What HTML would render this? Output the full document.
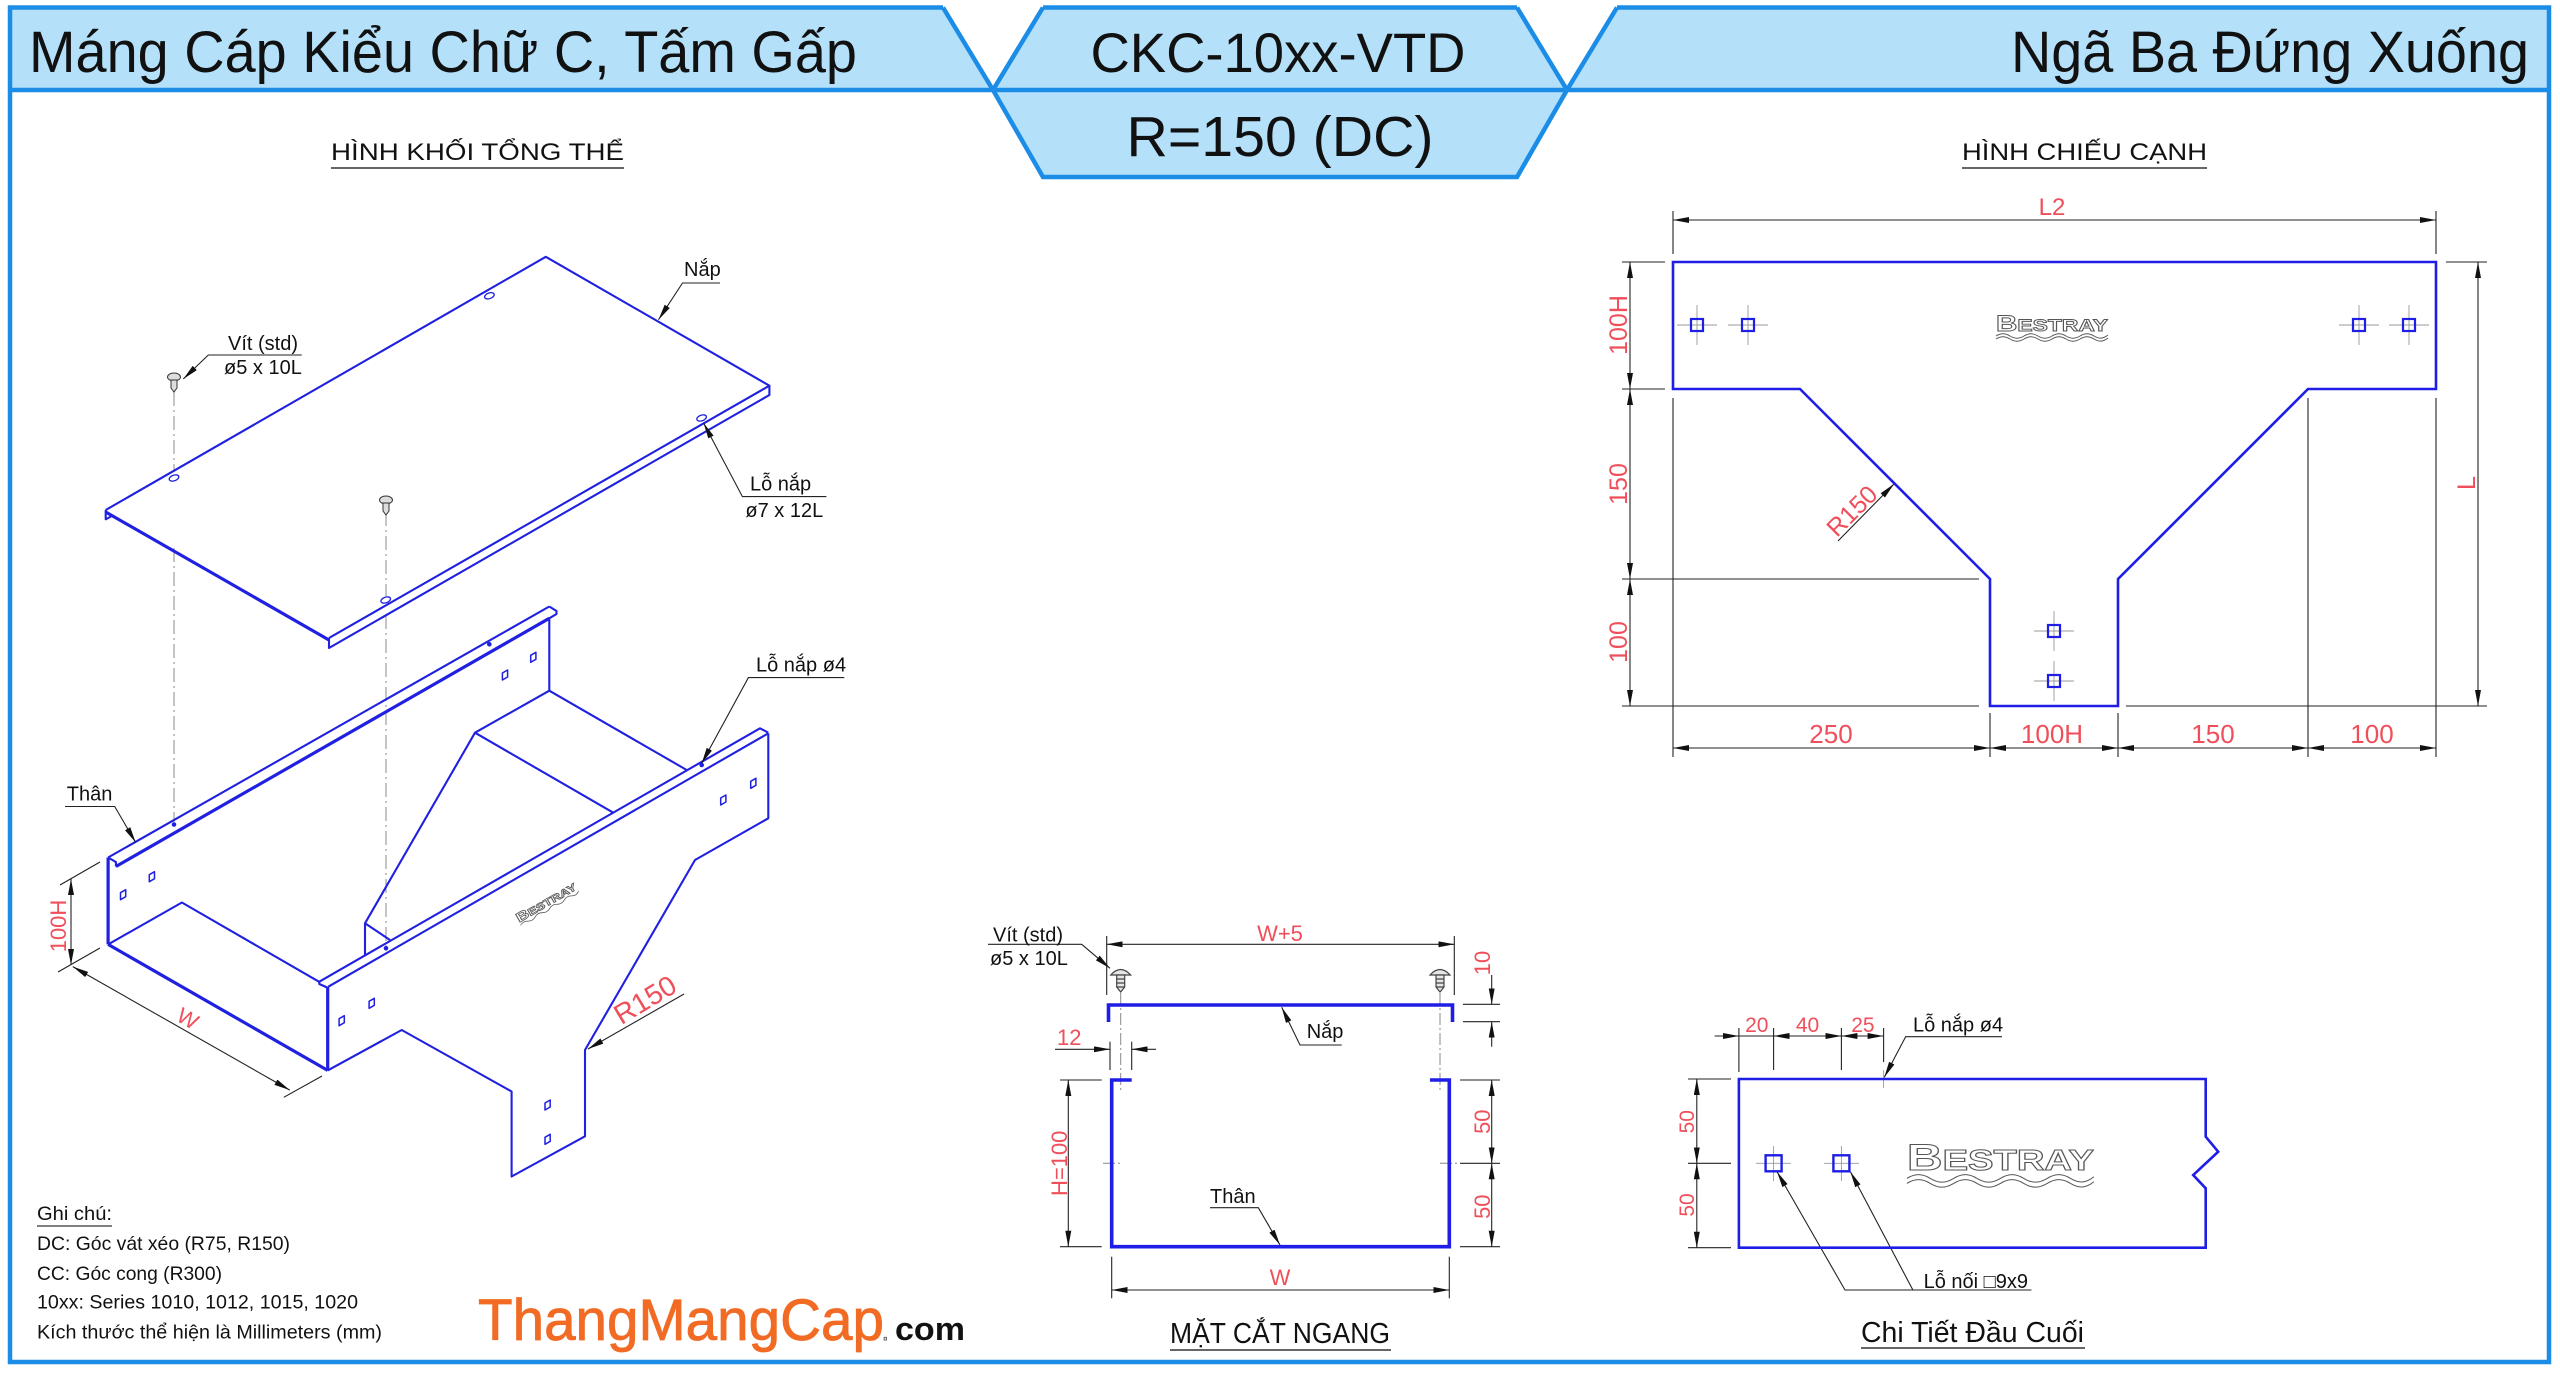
<!DOCTYPE html>
<html><head><meta charset="utf-8"><style>html,body{margin:0;padding:0;background:#fff}svg{display:block}</style></head><body>
<svg xmlns="http://www.w3.org/2000/svg" width="2560" height="1373" viewBox="0 0 2560 1373" font-family="'Liberation Sans','DejaVu Sans',sans-serif">
<defs>
<marker id="a" viewBox="0 0 16 6" refX="16" refY="3" markerWidth="16" markerHeight="6" orient="auto-start-reverse" markerUnits="userSpaceOnUse"><path d="M0,0 L16,3 L0,6 z" fill="#111"/></marker>
</defs>
<rect width="2560" height="1373" fill="#fff"/>
<!-- HEADER -->
<polygon points="10,7.5 943,7.5 993,90 10,90" fill="#b4e0fa"/>
<polygon points="1043,7.5 1517,7.5 1567,90 1517,177 1043,177 993,90" fill="#b4e0fa"/>
<polygon points="1617,7.5 2549,7.5 2549,90 1567,90" fill="#b4e0fa"/>
<g stroke="#1b8de6" stroke-width="4.5" fill="none">
<polyline points="943,7.5 10,7.5 10,1362 2549,1362 2549,7.5 1617,7.5"/>
<line x1="1043" y1="7.5" x2="1517" y2="7.5"/>
<line x1="10" y1="90" x2="2549" y2="90"/>
<polyline points="943,7.5 993,90 1043,177 1517,177 1567,90 1617,7.5"/>
<line x1="1043" y1="7.5" x2="993" y2="90"/>
<line x1="1517" y1="7.5" x2="1567" y2="90"/>
</g>
<g fill="#111">
<text x="29" y="72" font-size="58" textLength="828" lengthAdjust="spacingAndGlyphs">Máng Cáp Kiểu Chữ C, Tấm Gấp</text>
<text x="1278" y="72" font-size="56" text-anchor="middle" textLength="375" lengthAdjust="spacingAndGlyphs">CKC-10xx-VTD</text>
<text x="1280" y="156" font-size="57" text-anchor="middle" textLength="307" lengthAdjust="spacingAndGlyphs">R=150 (DC)</text>
<text x="2011" y="72" font-size="58" textLength="518" lengthAdjust="spacingAndGlyphs">Ngã Ba Đứng Xuống</text>
<text x="331" y="160" font-size="24" textLength="293" lengthAdjust="spacingAndGlyphs">HÌNH KHỐI TỔNG THỂ</text>
<text x="1962" y="160" font-size="24" textLength="245" lengthAdjust="spacingAndGlyphs">HÌNH CHIẾU CẠNH</text>
<text x="1170" y="1343" font-size="29" textLength="220" lengthAdjust="spacingAndGlyphs">MẶT CẮT NGANG</text>
<text x="1861" y="1342" font-size="29" textLength="223" lengthAdjust="spacingAndGlyphs">Chi Tiết Đầu Cuối</text>
</g>
<g stroke="#666" stroke-width="2">
<line x1="331" y1="168" x2="624" y2="168"/>
<line x1="1962" y1="168" x2="2207" y2="168"/>
<line x1="1170" y1="1350" x2="1391" y2="1350"/>
<line x1="1861" y1="1348" x2="2085" y2="1348"/>
</g>

<!-- SIDE VIEW -->
<g stroke="#222" stroke-width="1.1" fill="none">
<line x1="1673" y1="211" x2="1673" y2="254"/>
<line x1="2436" y1="211" x2="2436" y2="254"/>
<line x1="1673" y1="220" x2="2436" y2="220" marker-start="url(#a)" marker-end="url(#a)"/>
<line x1="1622" y1="262" x2="1665" y2="262"/>
<line x1="1622" y1="389" x2="1665" y2="389"/>
<line x1="1622" y1="579" x2="1979" y2="579"/>
<line x1="1622" y1="706" x2="1979" y2="706"/>
<line x1="2126" y1="706" x2="2487" y2="706"/>
<line x1="2446" y1="262" x2="2487" y2="262"/>
<line x1="1630" y1="262" x2="1630" y2="389" marker-start="url(#a)" marker-end="url(#a)"/>
<line x1="1630" y1="389" x2="1630" y2="579" marker-start="url(#a)" marker-end="url(#a)"/>
<line x1="1630" y1="579" x2="1630" y2="706" marker-start="url(#a)" marker-end="url(#a)"/>
<line x1="2478" y1="262" x2="2478" y2="706" marker-start="url(#a)" marker-end="url(#a)"/>
<line x1="1673" y1="398" x2="1673" y2="757"/>
<line x1="1990" y1="713" x2="1990" y2="757"/>
<line x1="2118" y1="713" x2="2118" y2="757"/>
<line x1="2308" y1="398" x2="2308" y2="757"/>
<line x1="2436" y1="398" x2="2436" y2="757"/>
<line x1="1673" y1="748" x2="1990" y2="748" marker-start="url(#a)" marker-end="url(#a)"/>
<line x1="1990" y1="748" x2="2118" y2="748" marker-start="url(#a)" marker-end="url(#a)"/>
<line x1="2118" y1="748" x2="2308" y2="748" marker-start="url(#a)" marker-end="url(#a)"/>
<line x1="2308" y1="748" x2="2436" y2="748" marker-start="url(#a)" marker-end="url(#a)"/>
<line x1="1838" y1="541" x2="1894" y2="484" marker-end="url(#a)"/>
</g>
<path d="M1673,262 L2436,262 L2436,389 L2308,389 L2118,579 L2118,706 L1990,706 L1990,579 L1800,389 L1673,389 Z" fill="none" stroke="#1e1ee6" stroke-width="2.6"/>
<g stroke="#999" stroke-width="0.9">
<path d="M1677,325h40M1697,305v40M1728,325h40M1748,305v40M2339,325h40M2359,305v40M2389,325h40M2409,305v40M2034,631h40M2054,611v40M2034,681h40M2054,661v40"/>
</g>
<g fill="none" stroke="#1e1ee6" stroke-width="2.2">
<rect x="1691" y="319" width="12" height="12"/><rect x="1742" y="319" width="12" height="12"/>
<rect x="2353" y="319" width="12" height="12"/><rect x="2403" y="319" width="12" height="12"/>
<rect x="2048" y="625" width="12" height="12"/><rect x="2048" y="675" width="12" height="12"/>
</g>
<g fill="#ef4f5a">
<text x="2052" y="215" font-size="24" text-anchor="middle">L2</text>
<text transform="translate(1627,325) rotate(-90)" font-size="25" text-anchor="middle">100H</text>
<text transform="translate(1627,484) rotate(-90)" font-size="25" text-anchor="middle">150</text>
<text transform="translate(1627,642) rotate(-90)" font-size="25" text-anchor="middle">100</text>
<text transform="translate(2475,483) rotate(-90)" font-size="25" text-anchor="middle">L</text>
<text x="1831" y="743" font-size="26" text-anchor="middle">250</text>
<text x="2052" y="743" font-size="26" text-anchor="middle">100H</text>
<text x="2213" y="743" font-size="26" text-anchor="middle">150</text>
<text x="2372" y="743" font-size="26" text-anchor="middle">100</text>
<text transform="translate(1858,517) rotate(-45)" font-size="25" text-anchor="middle">R150</text>
</g>
<g transform="translate(2052,326)">
<text x="-56" y="5" font-size="17" font-weight="bold" fill="#fff" stroke="#555" stroke-width="0.9" textLength="112" lengthAdjust="spacingAndGlyphs"><tspan font-size="22">B</tspan>ESTRAY</text>
<path d="M-56,10 c5,-3 9,-3 14,0 s9,3 14,0 s9,-3 14,0 s9,3 14,0 s9,-3 14,0 s9,3 14,0 s9,-3 14,0 s9,3 14,-1 M-56,13 c5,-3 9,-3 14,0 s9,3 14,0 s9,-3 14,0 s9,3 14,0 s9,-3 14,0 s9,3 14,0 s9,-3 14,0 s9,3 14,-1" fill="none" stroke="#555" stroke-width="0.9"/>
</g>

<!-- CROSS SECTION -->
<g stroke="#222" stroke-width="1.1" fill="none">
<line x1="1106.7" y1="936" x2="1106.7" y2="995"/>
<line x1="1454.3" y1="936" x2="1454.3" y2="995"/>
<line x1="1106.7" y1="944.3" x2="1454.3" y2="944.3" marker-start="url(#a)" marker-end="url(#a)"/>
<line x1="1463" y1="1004.3" x2="1500" y2="1004.3"/>
<line x1="1463" y1="1021.7" x2="1500" y2="1021.7"/>
<line x1="1491.7" y1="975" x2="1491.7" y2="1004.3" marker-end="url(#a)"/>
<line x1="1491.7" y1="1046.7" x2="1491.7" y2="1021.7" marker-end="url(#a)"/>
<line x1="1110" y1="1041.7" x2="1110" y2="1070"/>
<line x1="1131.7" y1="1041.7" x2="1131.7" y2="1070"/>
<line x1="1055" y1="1049.3" x2="1110" y2="1049.3" marker-end="url(#a)"/>
<line x1="1156" y1="1049.3" x2="1131.7" y2="1049.3" marker-end="url(#a)"/>
<line x1="1060" y1="1080" x2="1101.7" y2="1080"/>
<line x1="1060" y1="1246.7" x2="1101.7" y2="1246.7"/>
<line x1="1068.3" y1="1080" x2="1068.3" y2="1246.7" marker-start="url(#a)" marker-end="url(#a)"/>
<line x1="1460" y1="1080" x2="1500" y2="1080"/>
<line x1="1460" y1="1163.3" x2="1500" y2="1163.3"/>
<line x1="1460" y1="1246.7" x2="1500" y2="1246.7"/>
<line x1="1491.7" y1="1080" x2="1491.7" y2="1163.3" marker-start="url(#a)" marker-end="url(#a)"/>
<line x1="1491.7" y1="1163.3" x2="1491.7" y2="1246.7" marker-start="url(#a)" marker-end="url(#a)"/>
<line x1="1111.7" y1="1256.7" x2="1111.7" y2="1298.3"/>
<line x1="1449.3" y1="1256.7" x2="1449.3" y2="1298.3"/>
<line x1="1111.7" y1="1290" x2="1449.3" y2="1290" marker-start="url(#a)" marker-end="url(#a)"/>
<polyline points="988,944.3 1081.7,944.3 1110,968.3" marker-end="url(#a)"/>
<polyline points="1341.7,1045 1300,1045 1281.7,1007.3" marker-end="url(#a)"/>
<polyline points="1210,1207.7 1258.3,1207.7 1280,1245" marker-end="url(#a)"/>
</g>
<g stroke="#888" stroke-width="1" stroke-dasharray="12 3 2 3" fill="none">
<line x1="1120.7" y1="993" x2="1120.7" y2="1090"/>
<line x1="1440" y1="993" x2="1440" y2="1090"/>
<line x1="1103" y1="1163.3" x2="1122" y2="1163.3"/>
<line x1="1440" y1="1163.3" x2="1458" y2="1163.3"/>
</g>
<g stroke="#1e1ee6" stroke-width="3.6" fill="none">
<polyline points="1108.5,1022 1108.5,1005 1452.5,1005 1452.5,1022"/>
<polyline points="1131.7,1080 1111.7,1080 1111.7,1246.7 1449.3,1246.7 1449.3,1080 1430,1080"/>
</g>
<g stroke="#444" stroke-width="1.2" fill="#e6e6e6">
<path d="M1110.7,975 Q1120.7,964 1130.7,975 Z"/><path d="M1116.7,975 h8 v12 l-4,5 l-4,-5 z"/>
<path d="M1430,975 Q1440,964 1450,975 Z"/><path d="M1436,975 h8 v12 l-4,5 l-4,-5 z"/>
<path d="M1116.7,979h8M1116.7,983h8M1116.7,987h8M1436,979h8M1436,983h8M1436,987h8" fill="none"/>
</g>
<g fill="#ef4f5a" font-size="22">
<text x="1280" y="941" text-anchor="middle">W+5</text>
<text x="1057" y="1045">12</text>
<text transform="translate(1490,963) rotate(-90)" text-anchor="middle">10</text>
<text transform="translate(1490,1121.7) rotate(-90)" text-anchor="middle">50</text>
<text transform="translate(1490,1206.7) rotate(-90)" text-anchor="middle">50</text>
<text transform="translate(1067,1163.3) rotate(-90)" text-anchor="middle">H=100</text>
<text x="1280" y="1285" text-anchor="middle">W</text>
</g>
<g fill="#111" font-size="20">
<text x="993" y="941.7">Vít (std)</text>
<text x="990" y="965">ø5 x 10L</text>
<text x="1306.7" y="1038">Nắp</text>
<text x="1210" y="1203">Thân</text>
</g>

<!-- END DETAIL -->
<g stroke="#222" stroke-width="1.1" fill="none">
<line x1="1738.9" y1="1028" x2="1738.9" y2="1072"/>
<line x1="1773.6" y1="1028" x2="1773.6" y2="1070"/>
<line x1="1841.4" y1="1028" x2="1841.4" y2="1070"/>
<line x1="1883.6" y1="1028" x2="1883.6" y2="1062"/>
<line x1="1714.6" y1="1036" x2="1738.9" y2="1036" marker-end="url(#a)"/>
<line x1="1738.9" y1="1036" x2="1773.6" y2="1036"/>
<line x1="1773.6" y1="1036" x2="1841.4" y2="1036" marker-start="url(#a)" marker-end="url(#a)"/>
<line x1="1841.4" y1="1036" x2="1883.6" y2="1036" marker-start="url(#a)" marker-end="url(#a)"/>
<line x1="1688" y1="1079" x2="1731" y2="1079"/>
<line x1="1688" y1="1163.3" x2="1731" y2="1163.3"/>
<line x1="1688" y1="1247.7" x2="1731" y2="1247.7"/>
<line x1="1696.8" y1="1079" x2="1696.8" y2="1163.3" marker-start="url(#a)" marker-end="url(#a)"/>
<line x1="1696.8" y1="1163.3" x2="1696.8" y2="1247.7" marker-start="url(#a)" marker-end="url(#a)"/>
<polyline points="2002,1036.7 1905.7,1036.7 1884.3,1077.3" marker-end="url(#a)"/>
<polyline points="2031.4,1290 1845,1290 1777,1171.7" marker-end="url(#a)"/>
<line x1="1912.9" y1="1290" x2="1850.4" y2="1171.7" marker-end="url(#a)"/>
</g>
<g stroke="#999" stroke-width="0.9">
<path d="M1756,1163.3h35M1773.6,1146v35M1824,1163.3h35M1841.4,1146v35M1883.6,1070v18"/>
</g>
<path d="M1738.9,1079 L2205.7,1079 L2205.7,1136.7 L2218.2,1151.7 L2193.2,1175 L2205.7,1188.3 L2205.7,1247.7 L1738.9,1247.7 Z" fill="none" stroke="#1e1ee6" stroke-width="2.6"/>
<g fill="none" stroke="#1e1ee6" stroke-width="2.4">
<rect x="1765.6" y="1155.3" width="16" height="16"/><rect x="1833.4" y="1155.3" width="16" height="16"/>
</g>
<g fill="#ef4f5a" font-size="21">
<text x="1756.8" y="1032" text-anchor="middle">20</text>
<text x="1807.5" y="1032" text-anchor="middle">40</text>
<text x="1862.9" y="1032" text-anchor="middle">25</text>
<text transform="translate(1694,1121.7) rotate(-90)" text-anchor="middle">50</text>
<text transform="translate(1694,1205) rotate(-90)" text-anchor="middle">50</text>
</g>
<g fill="#111" font-size="20">
<text x="1913" y="1031.7">Lỗ nắp ø4</text>
<text x="1923.6" y="1288">Lỗ nối □9x9</text>
</g>
<g transform="translate(2000.4,1161.7) scale(1.67)">
<text x="-56" y="5" font-size="17" font-weight="bold" fill="#fff" stroke="#555" stroke-width="0.6" textLength="112" lengthAdjust="spacingAndGlyphs"><tspan font-size="22">B</tspan>ESTRAY</text>
<path d="M-56,10 c5,-3 9,-3 14,0 s9,3 14,0 s9,-3 14,0 s9,3 14,0 s9,-3 14,0 s9,3 14,0 s9,-3 14,0 s9,3 14,-1 M-56,13 c5,-3 9,-3 14,0 s9,3 14,0 s9,-3 14,0 s9,3 14,0 s9,-3 14,0 s9,3 14,0 s9,-3 14,0 s9,3 14,-1" fill="none" stroke="#555" stroke-width="0.6"/>
</g>

<!-- ISO VIEW -->
<g stroke="#888" stroke-width="1" stroke-dasharray="14 4 2 4" fill="none">
<line x1="174" y1="392" x2="174" y2="472"/>
<line x1="174" y1="548" x2="174" y2="822"/>
<line x1="386" y1="512" x2="386" y2="596"/>
<line x1="386" y1="615" x2="386" y2="946"/>
</g>
<g stroke="#2020e0" stroke-width="2.1" fill="none" stroke-linejoin="round">
<polyline points="105.7,510 545.8,256.8 769.4,385.7 329,638"/>
<polyline points="769.4,385.7 769.4,395 329,648 329,638"/>
<polyline points="105.7,510 105.7,519.3 111,516.5"/>
<line x1="108.1" y1="857.5" x2="549.3" y2="606.5"/>
<polyline points="549.3,606.5 556.5,611 556.5,614 549.3,618.3"/>
<line x1="549.3" y1="618.3" x2="549.3" y2="690.7"/>
<polyline points="108.1,857.5 115.9,862 115.9,866.5"/>
<polyline points="108.1,944.4 181.9,902.5 319.8,982.2"/>
<polyline points="686.7,770 549.3,690.7 475,732.7 613.3,812.7"/>
<polyline points="475,732.7 365,923.3 365,955"/>
<line x1="365" y1="923.3" x2="390" y2="940"/>
<polyline points="319.3,981.7 760,728.3 768.3,732.7"/>
<line x1="328.3" y1="986.7" x2="768.3" y2="733.3"/>
<polyline points="319.3,981.7 319.3,984 328.3,988"/>
<polyline points="768.3,733.3 768.3,818.3 695,860 585,1050 585,1136.3 511.6,1176.5 511.6,1091.5 401.7,1030 327.7,1070.4"/>
<path d="M530.7,655.3l5.2,-3v7l-5.2,3z M502.4,673l5.2,-3v7l-5.2,3z M149.3,874.7l5.2,-3v7l-5.2,3z M120.5,892.7l5.2,-3v7l-5.2,3z M750.7,781.3l5.2,-3v7l-5.2,3z M720.7,798l5.2,-3v7l-5.2,3z M369.1,1001.3l5.2,-3v7l-5.2,3z M339.1,1018.7l5.2,-3v7l-5.2,3z M545,1103l5.2,-3v7l-5.2,3z M545,1137.3l5.2,-3v7l-5.2,3z" stroke-width="1.5"/>
<ellipse cx="489.4" cy="295.8" rx="5" ry="2.8" transform="rotate(-20 489.4 295.8)" stroke-width="1.3"/>
<ellipse cx="174" cy="478" rx="5" ry="2.8" transform="rotate(-20 174 478)" stroke-width="1.3"/>
<ellipse cx="701.6" cy="418" rx="5" ry="2.8" transform="rotate(-20 701.6 418)" stroke-width="1.3"/>
<ellipse cx="385.7" cy="600" rx="5" ry="2.8" transform="rotate(-20 385.7 600)" stroke-width="1.3"/>
</g>
<g stroke="#2020e0" stroke-width="3.2" fill="none">
<line x1="105.7" y1="512" x2="329" y2="640"/>
<line x1="115.9" y1="866.5" x2="549.3" y2="618.3"/>
<line x1="108.1" y1="857.5" x2="108.1" y2="944.4"/>
<line x1="108.1" y1="944.4" x2="327.7" y2="1070.4"/>
<line x1="327.7" y1="986.7" x2="327.7" y2="1070.4"/>
</g>
<g fill="#2020e0">
<circle cx="489.3" cy="644.3" r="2.3"/><circle cx="174" cy="824.5" r="2.3"/><circle cx="386" cy="948.3" r="2.3"/><circle cx="701.7" cy="765" r="2.3"/>
</g>
<g stroke="#333" stroke-width="1" fill="#ddd">
<ellipse cx="174" cy="377" rx="6.5" ry="4"/><path d="M171,380 h6 v8 l-3,4 l-3,-4 z"/>
<ellipse cx="386" cy="500" rx="6.5" ry="4"/><path d="M383,503 h6 v8 l-3,4 l-3,-4 z"/>
</g>
<g transform="translate(546.7,903.3) rotate(-30) scale(0.6)">
<text x="-56" y="5" font-size="17" font-weight="bold" fill="#fff" stroke="#555" stroke-width="1.3" textLength="112" lengthAdjust="spacingAndGlyphs"><tspan font-size="22">B</tspan>ESTRAY</text>
<path d="M-56,10 c5,-3 9,-3 14,0 s9,3 14,0 s9,-3 14,0 s9,3 14,0 s9,-3 14,0 s9,3 14,0 s9,-3 14,0 s9,3 14,-1" fill="none" stroke="#555" stroke-width="1.3"/>
</g>
<g stroke="#222" stroke-width="1.1" fill="none">
<line x1="60" y1="885" x2="100" y2="862"/>
<line x1="58" y1="972" x2="100" y2="948"/>
<line x1="71" y1="879" x2="71" y2="965" marker-start="url(#a)" marker-end="url(#a)"/>
<line x1="72.8" y1="966.6" x2="289.8" y2="1090.1" marker-start="url(#a)" marker-end="url(#a)"/>
<line x1="283.8" y1="1097.3" x2="322" y2="1076"/>
<line x1="684" y1="994" x2="588" y2="1049" marker-end="url(#a)"/>
<polyline points="720,283 682.5,283 658.5,319.7" marker-end="url(#a)"/>
<polyline points="301.7,355 208.3,355 183.3,379" marker-end="url(#a)"/>
<polyline points="826.4,496.6 742.4,496.6 703.5,422.9" marker-end="url(#a)"/>
<polyline points="844.3,677.6 748.4,677.6 701.7,763.3" marker-end="url(#a)"/>
<polyline points="65,806.5 114.7,806.5 135.7,842.5" marker-end="url(#a)"/>
</g>
<g fill="#ef4f5a">
<text transform="translate(66,926) rotate(-90)" font-size="22" text-anchor="middle">100H</text>
<text transform="translate(184,1025) rotate(30)" font-size="22" text-anchor="middle">W</text>
<text transform="translate(650,1008) rotate(-31)" font-size="28" text-anchor="middle">R150</text>
</g>
<g fill="#111" font-size="20">
<text x="684" y="276">Nắp</text>
<text x="228" y="350">Vít (std)</text>
<text x="224" y="374">ø5 x 10L</text>
<text x="750" y="490.6">Lỗ nắp</text>
<text x="745.4" y="517">ø7 x 12L</text>
<text x="756" y="671.7">Lỗ nắp ø4</text>
<text x="66.8" y="800.5">Thân</text>
</g>

<!-- NOTES -->
<g fill="#111" font-size="19.5">
<text x="37" y="1220" textLength="75" lengthAdjust="spacingAndGlyphs">Ghi chú:</text>
<text x="37" y="1250" textLength="253" lengthAdjust="spacingAndGlyphs">DC: Góc vát xéo (R75, R150)</text>
<text x="37" y="1280" textLength="185" lengthAdjust="spacingAndGlyphs">CC: Góc cong (R300)</text>
<text x="37" y="1308.5" textLength="321" lengthAdjust="spacingAndGlyphs">10xx: Series 1010, 1012, 1015, 1020</text>
<text x="37" y="1338.5" textLength="345" lengthAdjust="spacingAndGlyphs">Kích thước thể hiện là Millimeters (mm)</text>
</g>
<line x1="37" y1="1226" x2="112" y2="1226" stroke="#555" stroke-width="1.5"/>
<!-- LOGO -->
<text x="478" y="1340" font-size="58" fill="#f26b24" stroke="#f26b24" stroke-width="0.8" textLength="406" lengthAdjust="spacingAndGlyphs">ThangMangCap</text>
<text x="882" y="1340" font-size="24" fill="#fff" stroke="#666" stroke-width="1">.</text>
<text x="895" y="1340" font-size="32" font-weight="bold" fill="#111" textLength="70" lengthAdjust="spacingAndGlyphs">com</text>
</svg>
</body></html>
